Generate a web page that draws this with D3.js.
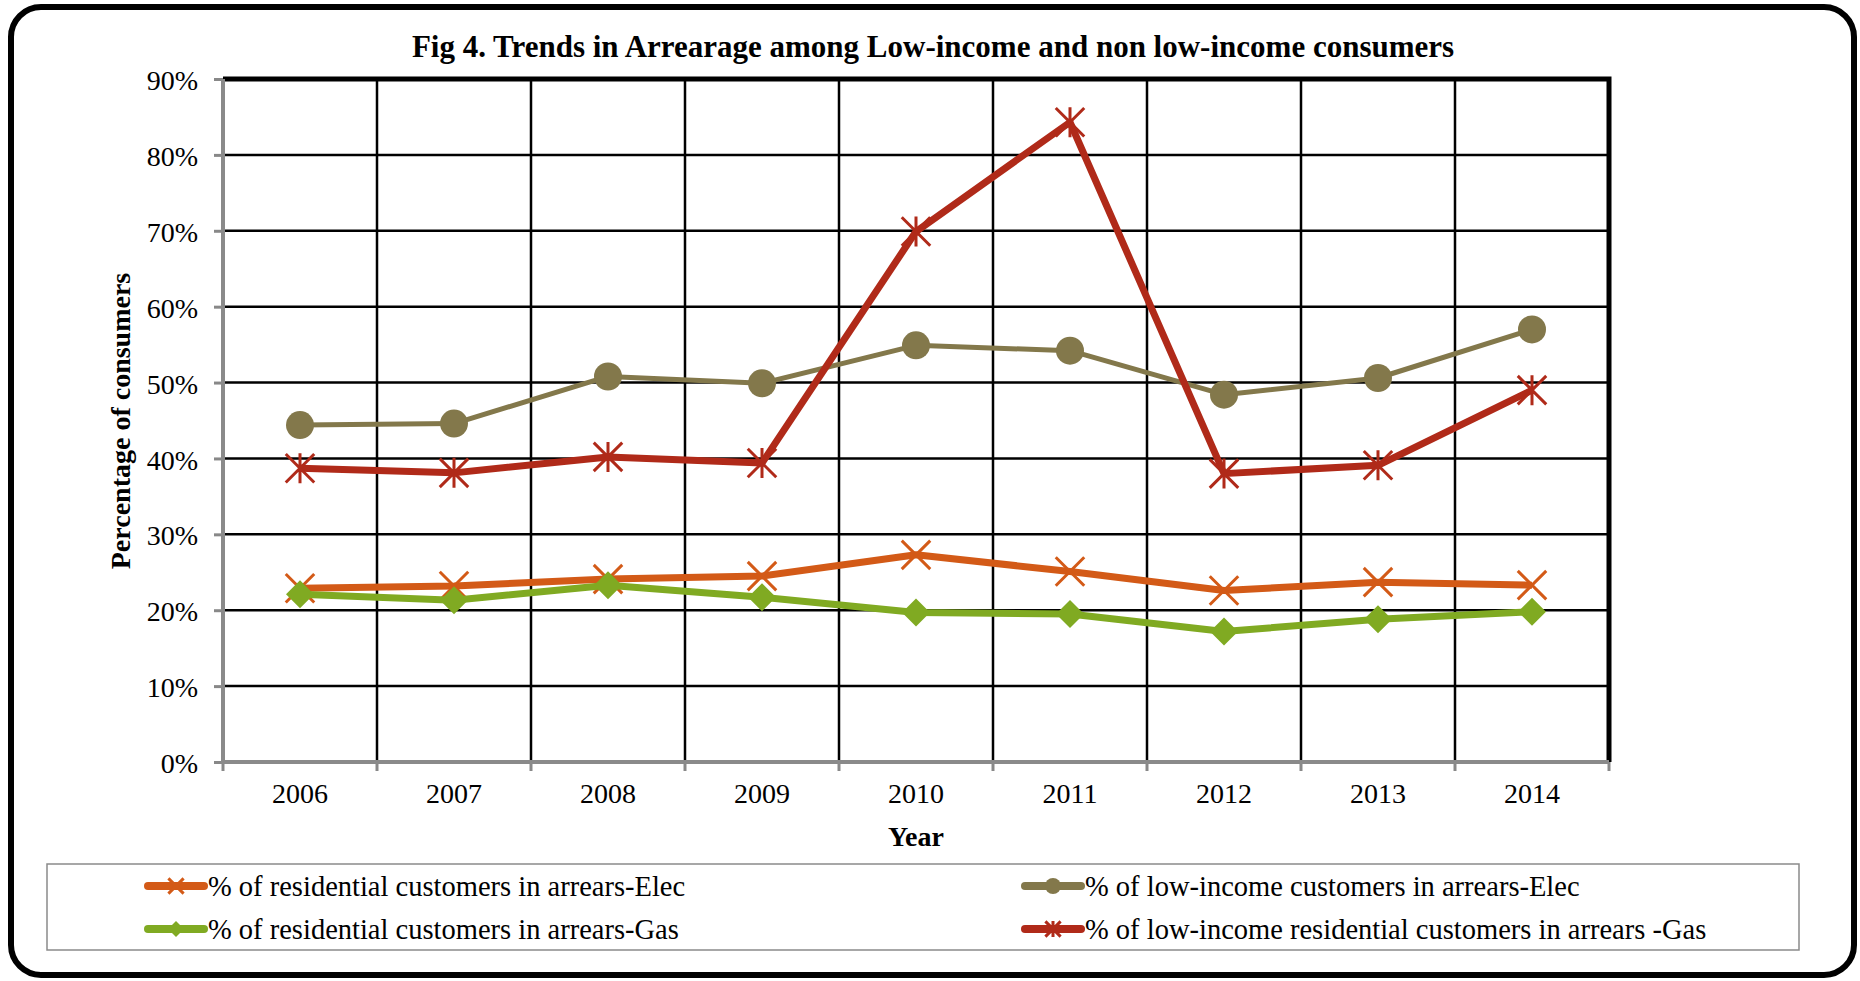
<!DOCTYPE html>
<html lang="en">
<head>
  <meta charset="UTF-8">
  <title>Fig 4</title>
  <script src="https://d3js.org/d3.v7.min.js"></script>
  <style>
    body { margin: 0; background: #fff; }
    text { font-family: "Times New Roman", "Liberation Serif", serif; fill: #000; }
  </style>
</head>
<body>
  <div id="root"></div>
  <script>
    const years = ['2006', '2007', '2008', '2009', '2010', '2011', '2012', '2013', '2014']
    const resElec = [22.9, 23.2, 24.1, 24.5, 27.3, 25.1, 22.6, 23.7, 23.3]
    const lowElec = [44.4, 44.6, 50.8, 49.9, 54.9, 54.2, 48.4, 50.6, 57.0]
    const resGas = [22.1, 21.3, 23.3, 21.7, 19.7, 19.5, 17.2, 18.8, 19.8]
    const lowGas = [38.7, 38.1, 40.2, 39.4, 69.9, 84.3, 38.0, 39.1, 49.0]
    const yTicks = [0, 10, 20, 30, 40, 50, 60, 70, 80, 90]

    const series = [
      { name: '% of residential customers in arrears-Elec', values: resElec, color: '#d35a17', marker: 'x', width: 7 },
      { name: '% of low-income customers in arrears-Elec', values: lowElec, color: '#83784b', marker: 'circle', width: 5 },
      { name: '% of residential customers in arrears-Gas', values: resGas, color: '#80aa22', marker: 'diamond', width: 7 },
      { name: '% of low-income residential customers in arrears -Gas', values: lowGas, color: '#b02a19', marker: 'star', width: 7 }
    ]

    const width = 1860
    const height = 981
    const dimensions = {
      width: width,
      height: height,
      margin: { top: 79, right: 251, bottom: 219, left: 223 }
    }
    dimensions.boundedWidth = dimensions.width - dimensions.margin.left - dimensions.margin.right
    dimensions.boundedHeight = dimensions.height - dimensions.margin.top - dimensions.margin.bottom

    const wrapper = d3.select('#root')
      .append('svg')
        .attr('width', dimensions.width)
        .attr('height', dimensions.height)

    // outer rounded frame
    wrapper.append('rect')
      .attr('x', 11).attr('y', 7)
      .attr('width', 1843).attr('height', 968)
      .attr('rx', 30)
      .attr('fill', '#fff')
      .attr('stroke', '#000')
      .attr('stroke-width', 6)

    wrapper.append('text')
      .attr('x', 933).attr('y', 57)
      .attr('text-anchor', 'middle')
      .style('font-size', '31px')
      .style('font-weight', 'bold')
      .text('Fig 4. Trends in Arrearage among Low-income and non low-income consumers')

    const bounds = wrapper.append('g')
      .attr('transform', `translate(${dimensions.margin.left}, ${dimensions.margin.top})`)

    const xScale = d3.scaleBand()
      .domain(years)
      .range([0, dimensions.boundedWidth])

    const yScale = d3.scaleLinear()
      .domain([0, 90])
      .range([dimensions.boundedHeight, 0])

    // horizontal gridlines
    bounds.append('g')
      .selectAll('line')
      .data(yTicks)
      .join('line')
      .attr('x1', 0).attr('x2', dimensions.boundedWidth)
      .attr('y1', d => yScale(d)).attr('y2', d => yScale(d))
      .attr('stroke', '#000')
      .attr('stroke-width', 2.5)

    // vertical gridlines at category boundaries
    bounds.append('g')
      .selectAll('line')
      .data(years.slice(1))
      .join('line')
      .attr('x1', d => xScale(d)).attr('x2', d => xScale(d))
      .attr('y1', 0).attr('y2', dimensions.boundedHeight)
      .attr('stroke', '#000')
      .attr('stroke-width', 2.5)

    // top and right frame
    bounds.append('path')
      .attr('d', `M0,0H${dimensions.boundedWidth}V${dimensions.boundedHeight}`)
      .attr('fill', 'none')
      .attr('stroke', '#000')
      .attr('stroke-width', 5)

    // y axis
    const yAxisGenerator = d3.axisLeft()
      .scale(yScale)
      .tickValues(yTicks)
      .tickSize(9)
      .tickPadding(16)
      .tickFormat(d => d + '%')
    const yAxis = bounds.append('g').call(yAxisGenerator)
    yAxis.select('.domain').remove()
    yAxis.selectAll('.tick line').attr('stroke', '#888').attr('stroke-width', 3)
    yAxis.selectAll('.tick text').style('font-size', '28px').attr('dy', '0.38em')

    // x axis
    const xAxisGenerator = d3.axisBottom()
      .scale(xScale)
      .tickSize(0)
      .tickPadding(21)
    const xAxis = bounds.append('g')
      .attr('transform', `translate(0, ${dimensions.boundedHeight})`)
      .call(xAxisGenerator)
    xAxis.select('.domain').remove()
    xAxis.selectAll('.tick text').style('font-size', '28px')
    xAxis.append('g')
      .selectAll('line')
      .data(years.concat(['end']))
      .join('line')
      .attr('x1', (d, i) => i * xScale.step()).attr('x2', (d, i) => i * xScale.step())
      .attr('y1', 0).attr('y2', 9)
      .attr('stroke', '#888')
      .attr('stroke-width', 3)

    // grey axis lines
    bounds.append('line')
      .attr('x1', 0).attr('x2', 0)
      .attr('y1', 0).attr('y2', dimensions.boundedHeight)
      .attr('stroke', '#8a8a8a').attr('stroke-width', 4)
    bounds.append('line')
      .attr('x1', -2).attr('x2', dimensions.boundedWidth)
      .attr('y1', dimensions.boundedHeight).attr('y2', dimensions.boundedHeight)
      .attr('stroke', '#8a8a8a').attr('stroke-width', 4)

    // axis titles
    wrapper.append('text')
      .attr('transform', 'translate(130, 421) rotate(-90)')
      .attr('text-anchor', 'middle')
      .style('font-size', '28px')
      .style('font-weight', 'bold')
      .text('Percentage of consumers')
    wrapper.append('text')
      .attr('x', 916).attr('y', 846)
      .attr('text-anchor', 'middle')
      .style('font-size', '28px')
      .style('font-weight', 'bold')
      .text('Year')

    const xCenter = d => xScale(d) + xScale.bandwidth() / 2

    const lineGenerator = d3.line()
      .x(d => xCenter(d.year))
      .y(d => yScale(d.value))

    function drawMarker(g, type, color, r) {
      if (type === 'circle') {
        g.append('circle').attr('r', r).attr('fill', color)
      } else if (type === 'diamond') {
        g.append('path')
          .attr('d', `M0,${-r}L${r},0L0,${r}L${-r},0Z`)
          .attr('fill', color)
      } else {
        const k = r * 0.95
        g.append('path')
          .attr('d', `M${-k},${-k}L${k},${k}M${-k},${k}L${k},${-k}` + (type === 'star' ? `M0,${-r}L0,${r}` : ''))
          .attr('stroke', color)
          .attr('stroke-width', 3)
          .attr('fill', 'none')
      }
    }

    series.forEach(s => {
      const pts = years.map((y, i) => ({ year: y, value: s.values[i] }))
      bounds.append('path')
        .attr('d', lineGenerator(pts))
        .attr('fill', 'none')
        .attr('stroke', s.color)
        .attr('stroke-width', s.width)
        .attr('stroke-linejoin', 'round')
      bounds.append('g')
        .selectAll('g')
        .data(pts)
        .join('g')
        .attr('transform', d => `translate(${xCenter(d.year)}, ${yScale(d.value)})`)
        .each(function() {
          drawMarker(d3.select(this), s.marker, s.color, s.marker === 'x' || s.marker === 'star' ? 15 : 14)
        })
    })

    // legend
    const legend = wrapper.append('g')
    legend.append('rect')
      .attr('x', 47).attr('y', 864)
      .attr('width', 1752).attr('height', 86)
      .attr('fill', '#fff')
      .attr('stroke', '#8a8a8a')
      .attr('stroke-width', 1.5)

    const legendPos = [
      { x: 145, y: 886 },
      { x: 1022, y: 886 },
      { x: 145, y: 929 },
      { x: 1022, y: 929 }
    ]
    series.forEach((s, i) => {
      const p = legendPos[i]
      const item = legend.append('g').attr('transform', `translate(${p.x}, ${p.y})`)
      item.append('line')
        .attr('x1', 3).attr('x2', 59)
        .attr('stroke', s.color)
        .attr('stroke-width', 8)
        .attr('stroke-linecap', 'round')
      const m = item.append('g').attr('transform', 'translate(31, 0)')
      drawMarker(m, s.marker, s.color, 8)
      item.append('text')
        .attr('x', 63).attr('dy', '0.35em')
        .style('font-size', '28.5px')
        .text(s.name)
    })
  </script>
</body>
</html>
